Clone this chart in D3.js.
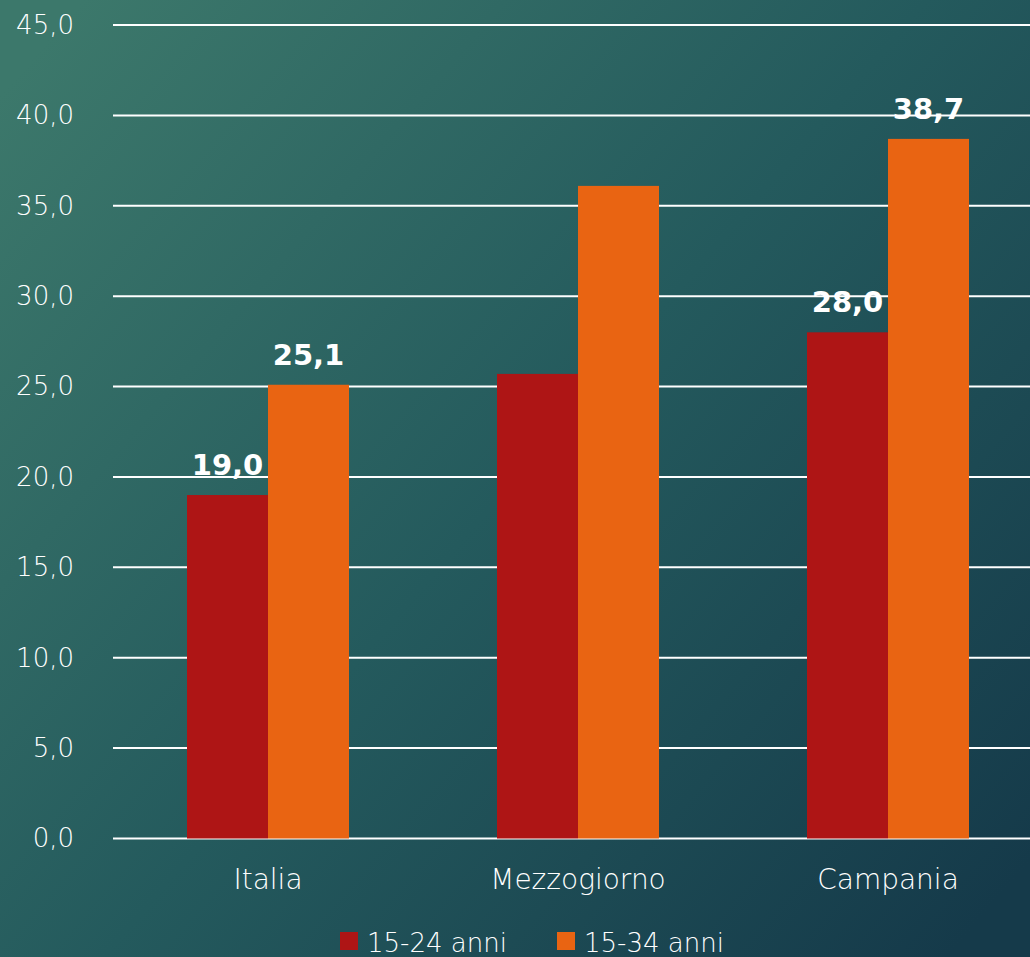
<!DOCTYPE html>
<html>
<head>
<meta charset="utf-8">
<script src="https://cdn.jsdelivr.net/npm/d3@7"></script>
<style>
  html, body { margin: 0; padding: 0; overflow: hidden; }
  svg { display: block; }
</style>
</head>
<body>
<div id="chart"></div>
<script>
const categories = ["Italia", "Mezzogiorno", "Campania"];
const seriesNames = ["15-24 anni", "15-34 anni"];
const values1524 = [19.0, 25.7, 28.0];
const values1534 = [25.1, 36.1, 38.7];
const showLabel = [true, false, true];
const yTicks = [0, 5, 10, 15, 20, 25, 30, 35, 40, 45];

const width = 1030;
const height = 957;
const colors = ["#AE1515", "#E96412"];
const font = "'DejaVu Sans', sans-serif";

const svg = d3.select("#chart")
    .append("svg")
    .attr("width", width)
    .attr("height", height);

// background gradient
const grad = svg.append("defs").append("linearGradient")
    .attr("id", "bg")
    .attr("x1", 0).attr("y1", 0.1)
    .attr("x2", 1).attr("y2", 0.9);
grad.append("stop").attr("offset", "0%").attr("stop-color", "#3c786b");
grad.append("stop").attr("offset", "50%").attr("stop-color", "#245a5d");
grad.append("stop").attr("offset", "100%").attr("stop-color", "#153a4a");
svg.append("rect").attr("width", width).attr("height", height).attr("fill", "url(#bg)");

const x = d3.scaleBand()
    .domain(categories)
    .range([113, 1043])
    .paddingInner(0)
    .paddingOuter(0);

const xInner = d3.scaleBand()
    .domain(seriesNames)
    .range([0, 162]);

const y = d3.scaleLinear()
    .domain([0, 45])
    .range([838.5, 25]);

// gridlines
svg.append("g")
    .selectAll("line")
    .data(yTicks)
    .enter()
    .append("line")
    .attr("x1", 113)
    .attr("x2", width)
    .attr("y1", d => y(d))
    .attr("y2", d => y(d))
    .attr("stroke", "#ffffff")
    .attr("stroke-width", 2);

// y axis labels
const yAxis = d3.axisLeft(y)
    .tickValues(yTicks)
    .tickFormat(d => d3.format(".1f")(d).replace(".", ","))
    .tickSize(0)
    .tickPadding(0);
const yg = svg.append("g")
    .attr("transform", "translate(74,0)")
    .call(yAxis);
yg.select(".domain").remove();
yg.selectAll("text")
    .attr("fill", "#ffffff")
    .attr("font-family", font)
    .attr("font-size", 26)
    .attr("font-weight", 300);

// bars
const data = categories.map((c, i) => ({
    cat: c,
    vals: [values1524[i], values1534[i]],
    label: showLabel[i]
}));

const groups = svg.append("g")
    .selectAll("g")
    .data(data)
    .enter()
    .append("g")
    .attr("transform", d => `translate(${x(d.cat) + x.bandwidth() / 2 - 81},0)`);

groups.selectAll("rect")
    .data(d => d.vals.map((v, j) => ({ v, s: seriesNames[j], j })))
    .enter()
    .append("rect")
    .attr("x", d => xInner(d.s))
    .attr("width", xInner.bandwidth())
    .attr("y", d => y(d.v))
    .attr("height", d => y(0) - y(d.v))
    .attr("fill", d => colors[d.j]);

groups.filter(d => d.label)
    .selectAll("text")
    .data(d => d.vals.map((v, j) => ({ v, s: seriesNames[j] })))
    .enter()
    .append("text")
    .attr("x", d => xInner(d.s) + xInner.bandwidth() / 2)
    .attr("y", d => y(d.v) - 20)
    .attr("text-anchor", "middle")
    .attr("fill", "#ffffff")
    .attr("font-family", font)
    .attr("font-size", 29)
    .attr("font-weight", "bold")
    .text(d => d3.format(".1f")(d.v).replace(".", ","));

// x axis labels
const xAxis = d3.axisBottom(x).tickSize(0).tickPadding(0);
const xg = svg.append("g")
    .attr("transform", "translate(0,869)")
    .call(xAxis);
xg.select(".domain").remove();
xg.selectAll("text")
    .attr("fill", "#ffffff")
    .attr("font-family", font)
    .attr("font-size", 28)
    .attr("font-weight", 300);

// legend
const legendX = [340, 557];
const legend = svg.append("g")
    .selectAll("g")
    .data(seriesNames)
    .enter()
    .append("g")
    .attr("transform", (d, i) => `translate(${legendX[i]},932)`);
legend.append("rect")
    .attr("width", 18)
    .attr("height", 18)
    .attr("fill", (d, i) => colors[i]);
legend.append("text")
    .attr("x", 27)
    .attr("y", 20)
    .attr("fill", "#ffffff")
    .attr("font-family", font)
    .attr("font-size", 26)
    .attr("font-weight", 300)
    .text(d => d);
</script>
</body>
</html>
